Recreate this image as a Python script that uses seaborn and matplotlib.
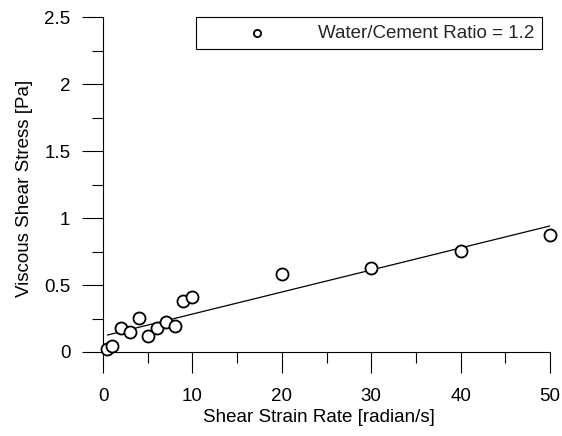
import matplotlib
matplotlib.use("Agg")
import matplotlib.pyplot as plt
import seaborn as sns
import pandas as pd
from matplotlib.ticker import MultipleLocator

# Measured rheology data
shear_rate = [0.5, 1, 2, 3, 4, 5, 6, 7, 8, 9, 10, 20, 30, 40, 50]
shear_stress = [0.02, 0.045, 0.18, 0.15, 0.256, 0.12, 0.177, 0.226, 0.194,
                0.383, 0.413, 0.582, 0.629, 0.754, 0.871]
series_label = "Water/Cement Ratio = 1.2"
x_ticks = [0, 10, 20, 30, 40, 50]
x_tick_labels = ["0", "10", "20", "30", "40", "50"]
y_ticks = [0, 0.5, 1, 1.5, 2, 2.5]
y_tick_labels = ["0", "0.5", "1", "1.5", "2", "2.5"]

sns.set_theme(style="ticks")
plt.rcParams["font.family"] = ["Liberation Sans", "DejaVu Sans"]

FS = 13.5

df = pd.DataFrame({"rate": shear_rate, "stress": shear_stress})

fig = plt.figure(figsize=(5.62, 4.36), dpi=100)
ax = fig.add_axes([0.1833, 0.1927, 0.7954, 0.7672])

# Least-squares trend line over the measured range
sns.regplot(data=df, x="rate", y="stress", ci=None, scatter=False, ax=ax,
            color="black", line_kws={"lw": 0.9})

# Open circle markers for the measurements
sns.scatterplot(data=df, x="rate", y="stress", ax=ax, marker="o", s=75,
                color="black", facecolor="white", edgecolor="black",
                linewidth=1.3, label=series_label, zorder=3, clip_on=False)

ax.set_xlim(0, 50)
ax.set_ylim(0, 2.5)
ax.set_xticks(x_ticks)
ax.set_xticklabels(x_tick_labels)
ax.set_yticks(y_ticks)
ax.set_yticklabels(y_tick_labels)
ax.xaxis.set_minor_locator(MultipleLocator(5))
ax.yaxis.set_minor_locator(MultipleLocator(0.25))
ax.tick_params(which="major", length=15, width=0.8, direction="out",
               labelsize=FS, color="black", labelcolor="black")
ax.tick_params(axis="x", which="major", pad=11)
ax.tick_params(axis="y", which="major", pad=8.5)
ax.tick_params(which="minor", length=8, width=0.8, direction="out",
               color="black")

sns.despine(ax=ax)
for side in ("left", "bottom"):
    ax.spines[side].set_linewidth(0.8)
    ax.spines[side].set_color("black")

ax.set_xlabel("Shear Strain Rate [radian/s]", fontsize=FS, labelpad=3,
              color="black")
ax.set_ylabel("Viscous Shear Stress [Pa]", fontsize=FS, labelpad=8,
              color="black")
ax.xaxis.label.set_x(0.483)
ax.yaxis.label.set_y(0.488)

leg = ax.legend(loc="upper right", bbox_to_anchor=(0.982, 1.0015),
                borderaxespad=0, frameon=True, fancybox=False,
                edgecolor="black", framealpha=1, handlelength=5.7,
                handletextpad=0.4, borderpad=0.4, markerscale=0.6,
                fontsize=FS)
leg.get_frame().set_linewidth(0.8)

fig.savefig("out.png", dpi=100)
